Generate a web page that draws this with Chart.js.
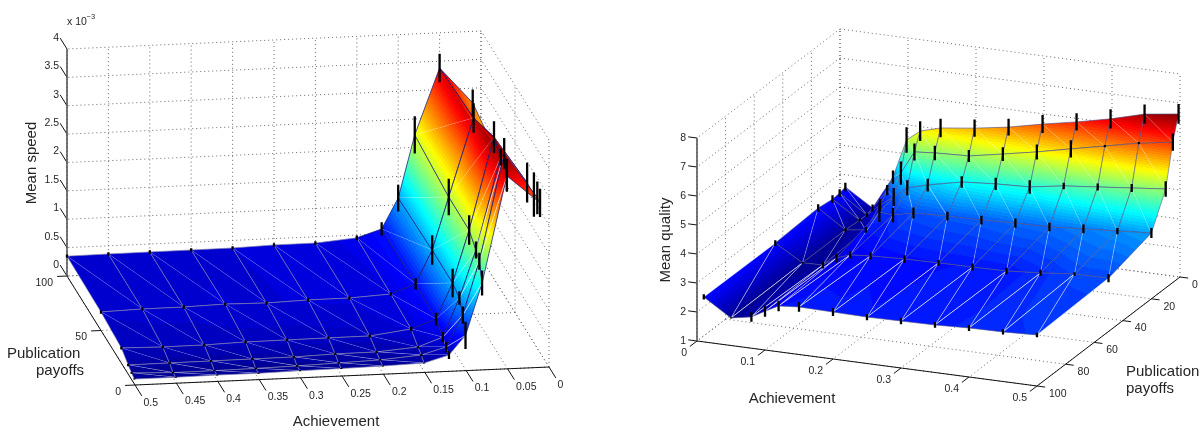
<!DOCTYPE html>
<html>
<head>
<meta charset="utf-8">
<title>Mean speed / Mean quality</title>
<script src="https://cdn.jsdelivr.net/npm/chart.js@4/dist/chart.umd.min.js"></script>
<style>
  html, body { margin: 0; padding: 0; background: #fff; }
  canvas { position: absolute; top: 0; }
  #chart-speed { left: 0; }
  #chart-quality { left: 601px; }
</style>
</head>
<body>
<canvas id="chart-speed" width="601" height="432"></canvas>
<canvas id="chart-quality" width="601" height="432"></canvas>
<script>
// ── Data: rows follow PAYOFFS, columns follow ACHIEVEMENT ─────────────
const ACHIEVEMENT = [0.5, 0.45, 0.4, 0.35, 0.3, 0.25, 0.2, 0.15, 0.12, 0.1, 0.08, 0.05, 0.01];
const PAYOFFS = [100, 50, 20, 10, 5, 1];

// Mean speed (x 10^-3)
const SPEED_100 = [0.35, 0.356, 0.36, 0.363, 0.367, 0.388, 0.39, 0.45, 0.587, 1.12, 2.22, 3.38, 2.74];
const SPEED_50  = [0.326, 0.347, 0.35, 0.37, 0.358, 0.379, 0.382, 0.42, 0.578, 1.165, 2.086, 3.46, 2.43];
const SPEED_20  = [0.268, 0.254, 0.257, 0.278, 0.282, 0.287, 0.289, 0.38, 0.537, 1.16, 2.08, 3.7, 2.87];
const SPEED_10  = [0.16, 0.164, 0.167, 0.171, 0.174, 0.196, 0.2, 0.255, 0.41, 1.087, 1.92, 3.54, 2.85];
const SPEED_5   = [0.116, 0.09, 0.093, 0.1, 0.113, 0.134, 0.155, 0.21, 0.332, 0.884, 1.82, 3.7, 2.89];
const SPEED_1   = [0.086, 0.085, 0.093, 0.092, 0.106, 0.113, 0.125, 0.146, 0.268, 0.6, 1.51, 3.38, 2.88];

const SPEED_ERR_100 = [0.03, 0.03, 0.03, 0.03, 0.03, 0.03, 0.03, 0.04, 0.12, 0.235, 0.33, 0.25, 0.235];
const SPEED_ERR_50  = [0.03, 0.03, 0.03, 0.03, 0.03, 0.03, 0.03, 0.03, 0.1, 0.26, 0.32, 0.26, 0.28];
const SPEED_ERR_20  = [0.025, 0.025, 0.025, 0.025, 0.025, 0.025, 0.025, 0.04, 0.11, 0.25, 0.26, 0.28, 0.35];
const SPEED_ERR_10  = [0.02, 0.02, 0.02, 0.02, 0.02, 0.02, 0.02, 0.02, 0.09, 0.12, 0.15, 0.15, 0.39];
const SPEED_ERR_5   = [0.015, 0.015, 0.015, 0.015, 0.015, 0.015, 0.015, 0.02, 0.09, 0.15, 0.15, 0.27, 0.29];
const SPEED_ERR_1   = [0.01, 0.01, 0.01, 0.01, 0.01, 0.01, 0.01, 0.01, 0.07, 0.24, 0.22, 0.28, 0.25];

// Mean quality
const QUALITY_100 = [2.76, 2.71, 2.69, 2.64, 2.62, 2.6, 2.62, 2.64, 2.58, 2.34, 2.08, 1.95, 2.55];
const QUALITY_50  = [2.84, 2.83, 2.71, 2.62, 2.6, 2.59, 2.57, 2.52, 2.46, 2.29, 1.99, 1.97, 2.53];
const QUALITY_20  = [3.27, 3.18, 3.1, 3.01, 2.99, 2.94, 2.92, 2.87, 2.71, 2.75, 2.07, 1.98, 2.61];
const QUALITY_10  = [4.41, 4.29, 4.17, 4.05, 3.86, 3.81, 3.72, 3.46, 3.27, 2.89, 2.55, 1.94, 2.54];
const QUALITY_5   = [5.84, 5.65, 5.39, 5.14, 4.88, 4.65, 4.43, 4.38, 4.32, 3.53, 2.88, 1.93, 2.56];
const QUALITY_1   = [6.66, 6.5, 6.18, 5.92, 5.69, 5.43, 5.24, 5.09, 4.89, 4.52, 3.18, 2.02, 2.62];

const QUALITY_ERR_100 = [0.08, 0.09, 0.1, 0.1, 0.11, 0.11, 0.14, 0.17, 0.18, 0.19, 0.17, 0.02, 0.09];
const QUALITY_ERR_50  = [0.14, 0.06, 0.11, 0.11, 0.12, 0.1, 0.13, 0.12, 0.13, 0.15, 0.12, 0.03, 0.1];
const QUALITY_ERR_20  = [0.17, 0.11, 0.15, 0.15, 0.16, 0.15, 0.15, 0.19, 0.25, 0.34, 0.1, 0.06, 0.13];
const QUALITY_ERR_10  = [0.27, 0.14, 0.12, 0.11, 0.23, 0.21, 0.2, 0.22, 0.26, 0.31, 0.2, 0.05, 0.13];
const QUALITY_ERR_5   = [0.3, 0.04, 0.04, 0.3, 0.26, 0.24, 0.21, 0.25, 0.29, 0.4, 0.18, 0.06, 0.13];
const QUALITY_ERR_1   = [0.34, 0.33, 0.33, 0.3, 0.31, 0.29, 0.3, 0.32, 0.34, 0.44, 0.23, 0.12, 0.15];

// Tick labels
const SPEED_A_TICKS = ["0", "0.05", "0.1", "0.15", "0.2", "0.25", "0.3", "0.35", "0.4", "0.45", "0.5"];
const SPEED_P_TICKS = ["0", "50", "100"];
const SPEED_Z_TICKS = ["0", "0.5", "1", "1.5", "2", "2.5", "3", "3.5", "4"];
const QUALITY_A_TICKS = ["0", "0.1", "0.2", "0.3", "0.4", "0.5"];
const QUALITY_P_TICKS = ["0", "20", "40", "60", "80", "100"];
const QUALITY_Z_TICKS = ["1", "2", "3", "4", "5", "6", "7", "8"];

// ── Colormap jet, 64 flat bands ───────────────────────────────────────
const JET = [
  [0, [0, 0, 143]], [0.125, [0, 0, 255]], [0.375, [0, 255, 255]],
  [0.625, [255, 255, 0]], [0.875, [255, 0, 0]], [1, [128, 0, 0]],
];
const BANDS = 64;

function jet(f) {
  f = Math.max(0, Math.min(1, f));
  for (let i = 1; i < JET.length; i++) {
    if (f <= JET[i][0]) {
      const [f0, c0] = JET[i - 1];
      const [f1, c1] = JET[i];
      const t = (f - f0) / (f1 - f0);
      return `rgb(${c0.map((c, k) => Math.round(c + (c1[k] - c) * t)).join(",")})`;
    }
  }
  return "rgb(128,0,0)";
}

// Facet is flat, so colour varies along one straight direction on screen
function facetFill(chart, corners, zMin, zMax) {
  const sx = chart.scales.x, sy = chart.scales.y;
  const frac = z => (z - zMin) / (zMax - zMin);
  if (!chart.chartArea || !sx || !sy) return jet(frac(corners[0].z));
  const pts = corners.map(c => ({ x: sx.getPixelForValue(c.x), y: sy.getPixelForValue(c.y), z: c.z }));
  const [p0, p1, p2] = pts;
  const lo = pts.reduce((a, b) => (b.z < a.z ? b : a));
  const hi = pts.reduce((a, b) => (b.z > a.z ? b : a));
  const det = (p1.x - p0.x) * (p2.y - p0.y) - (p2.x - p0.x) * (p1.y - p0.y);
  if (!isFinite(det) || hi.z - lo.z < 1e-6 || Math.abs(det) < 1e-6) return jet(frac((lo.z + hi.z) / 2));

  const gx = ((p1.z - p0.z) * (p2.y - p0.y) - (p2.z - p0.z) * (p1.y - p0.y)) / det;
  const gy = ((p1.x - p0.x) * (p2.z - p0.z) - (p2.x - p0.x) * (p1.z - p0.z)) / det;
  const g2 = gx * gx + gy * gy;
  const dz = hi.z - lo.z;
  const grad = chart.ctx.createLinearGradient(lo.x, lo.y, lo.x + gx * dz / g2, lo.y + gy * dz / g2);
  const toT = f => (zMin + f * (zMax - zMin) - lo.z) / dz;
  for (let k = 0; k < BANDS; k++) {
    const t0 = toT(k / BANDS), t1 = toT((k + 1) / BANDS);
    if (t1 <= 0 || t0 >= 1) continue;
    const col = jet((k + 0.5) / BANDS);
    grad.addColorStop(Math.max(0, t0), col);
    grad.addColorStop(Math.min(1, t1), col);
  }
  return grad;
}

// ── Helpers ───────────────────────────────────────────────────────────
function lineSet(segments, color, width, dash) {
  const data = [];
  segments.forEach(([a, b]) => data.push(a, b, { x: null, y: null }));
  return {
    data, showLine: true, fill: false, pointRadius: 0,
    borderColor: color, borderWidth: width, borderDash: dash || [],
  };
}

function range(labels) { return labels.map(Number); }

// ── One surface plot ──────────────────────────────────────────────────
function drawSurface(cfg) {
  const { project, rows, errs, aTicks, pTicks, zTicks } = cfg;
  const all = rows.flat();
  const zMin = Math.min(...all), zMax = Math.max(...all);
  const z0 = zTicks[0], z1 = zTicks[zTicks.length - 1];
  const aMax = aTicks[aTicks.length - 1], pMax = pTicks[pTicks.length - 1];

  // Back walls and floor
  const dotted = [];
  zTicks.forEach(z => {
    dotted.push([project(cfg.wallA, 0, z), project(cfg.wallA, pMax, z)]);
    dotted.push([project(0, cfg.wallP, z), project(aMax, cfg.wallP, z)]);
  });
  aTicks.forEach(a => {
    dotted.push([project(a, cfg.wallP, z0), project(a, cfg.wallP, z1)]);
    dotted.push([project(a, 0, z0), project(a, pMax, z0)]);
  });
  pTicks.forEach(p => {
    dotted.push([project(cfg.wallA, p, z0), project(cfg.wallA, p, z1)]);
    dotted.push([project(0, p, z0), project(aMax, p, z0)]);
  });

  // Axis lines and ticks
  const axes = [
    [project(0, cfg.axisP, z0), project(aMax, cfg.axisP, z0)],
    [project(aMax, 0, z0), project(aMax, pMax, z0)],
  ];
  aTicks.forEach(a => axes.push([project(a, cfg.axisP, z0), project(a, cfg.axisP + cfg.aTickLen, z0)]));
  pTicks.forEach(p => axes.push([project(aMax, p, z0), project(aMax + cfg.pTickLen, p, z0)]));
  zTicks.forEach(z => axes.push([project(cfg.zAxisA, cfg.zAxisP, z), project(cfg.zAxisA + cfg.zTickA, cfg.zAxisP + cfg.zTickP, z)]));

  // Facets, far ones first
  const node = (i, j) => {
    const p = project(ACHIEVEMENT[i], PAYOFFS[j], rows[j][i]);
    return { x: p.x, y: p.y, z: rows[j][i] };
  };
  const edgeColor = (a, b) => cfg.meshColor(((a.z + b.z) / 2 - zMin) / (zMax - zMin));
  const facets = [];
  for (let j = 0; j < PAYOFFS.length - 1; j++) {
    for (let i = 0; i < ACHIEVEMENT.length - 1; i++) {
      const a = node(i, j), b = node(i + 1, j), c = node(i, j + 1), d = node(i + 1, j + 1);
      facets.push({ corners: [a, b, d], row: [a, b], col: [b, d], diag: [a, d], j,
        cols: [i, i + 1, i + 1], rws: [j, j, j + 1] });
      facets.push({ corners: [a, c, d], row: [c, d], col: [a, c], diag: null, j,
        cols: [i, i, i + 1], rws: [j, j + 1, j + 1] });
    }
  }
  const nearness = f => {
    let s = 0;
    f.corners.forEach((c, k) => {
      const floor = project(ACHIEVEMENT[f.cols[k]], PAYOFFS[f.rws[k]], z0);
      s += floor.y + 0.25 * (floor.y - c.y);
    });
    return s;
  };
  facets.sort((f, g) => nearness(f) - nearness(g));

  const datasets = [];
  datasets.push(lineSet(dotted, "#666", 1, [1, 3]));
  datasets.push(lineSet(axes, "#111", 1));
  datasets.push(lineSet([[project(cfg.zAxisA, cfg.zAxisP, z0), project(cfg.zAxisA, cfg.zAxisP, z1)]], "#555", 1.6));

  facets.forEach(f => {
    datasets.push({
      data: [...f.corners, f.corners[0]], showLine: true, pointRadius: 0, borderWidth: 0,
      fill: "shape",
      backgroundColor: ctx => facetFill(ctx.chart, f.corners, zMin, zMax),
    });
    datasets.push(lineSet([f.row], edgeColor(...f.row), 0.9));
    datasets.push(lineSet([f.col], cfg.columnColor(f.j) || edgeColor(...f.col), 0.8));
    if (f.diag) datasets.push(lineSet([f.diag], cfg.diagColor(f.j), 0.7));
  });

  // Error bars
  const bars = [];
  rows.forEach((row, j) => row.forEach((z, i) => {
    const a = ACHIEVEMENT[i], p = PAYOFFS[j], e = errs[j][i];
    bars.push([project(a, p, z - e), project(a, p, z + e)]);
  }));
  datasets.push(lineSet(bars, "#000", 2.3));

  const labelPlugin = {
    id: "labels3d",
    afterDraw(chart) {
      const { ctx } = chart;
      const sx = chart.scales.x, sy = chart.scales.y;
      ctx.save();
      ctx.fillStyle = "#262626";
      ctx.textBaseline = "middle";
      cfg.labels().forEach(l => {
        ctx.save();
        ctx.font = `${l.size}px "Liberation Sans", Arial, sans-serif`;
        ctx.textAlign = l.align || "left";
        ctx.translate(sx.getPixelForValue(l.x), sy.getPixelForValue(l.y));
        if (l.rotate) ctx.rotate(l.rotate);
        ctx.fillText(l.text, 0, 0);
        ctx.restore();
      });
      ctx.restore();
    },
  };

  // Chart.js paints the last dataset first
  return new Chart(document.getElementById(cfg.canvasId), {
    type: "scatter",
    data: { datasets: datasets.reverse() },
    plugins: [labelPlugin],
    options: {
      responsive: false, animation: false, events: [],
      layout: { padding: 0 },
      elements: { line: { tension: 0, borderCapStyle: "butt" }, point: { radius: 0 } },
      plugins: { legend: { display: false }, tooltip: { enabled: false }, title: { display: false } },
      scales: {
        x: { type: "linear", display: false, min: cfg.xMin, max: cfg.xMax },
        y: { type: "linear", display: false, min: 0, max: 432, reverse: true },
      },
    },
  });
}

// ── Left: Mean speed ──────────────────────────────────────────────────
const projectSpeed = (a, p, z) => ({
  x: 135 + (0.5 - a) * 828 - p * 0.68,
  y: 385 - (0.5 - a) * 36 - p * 1.09 - z * 56.75,
});

drawSurface({
  canvasId: "chart-speed", xMin: 0, xMax: 601,
  project: projectSpeed,
  rows: [SPEED_100, SPEED_50, SPEED_20, SPEED_10, SPEED_5, SPEED_1],
  errs: [SPEED_ERR_100, SPEED_ERR_50, SPEED_ERR_20, SPEED_ERR_10, SPEED_ERR_5, SPEED_ERR_1],
  aTicks: range(SPEED_A_TICKS), pTicks: range(SPEED_P_TICKS), zTicks: range(SPEED_Z_TICKS),
  wallA: 0, wallP: 100, axisP: 0, aTickLen: -10, pTickLen: 0.012,
  zAxisA: 0.5, zAxisP: 100, zTickA: 0, zTickP: 10,
  meshColor: f => (f < 0.1 ? "rgba(125,125,175,0.75)" : "rgba(25,25,115,0.85)"),
  columnColor: () => null,
  diagColor: j => (j >= 3 ? "rgba(255,255,255,0.8)" : "rgba(255,255,255,0.4)"),
  labels: () => [
    ...SPEED_A_TICKS.map(t => { const b = projectSpeed(+t, 0, 0); return { text: t, x: b.x + 8.5, y: b.y + 18, size: 10.5 }; }),
    ...SPEED_P_TICKS.map(t => { const b = projectSpeed(0.5, +t, 0); return { text: t, x: b.x - 14, y: b.y + 7, size: 10.5, align: "right" }; }),
    ...SPEED_Z_TICKS.map(t => { const b = projectSpeed(0.5, 100, +t); return { text: t, x: 59, y: b.y - 11, size: 10.5, align: "right" }; }),
    { text: "x 10", x: 67, y: 22, size: 10.5 },
    { text: "\u22123", x: 86.5, y: 17, size: 7.5 },
    { text: "Mean speed", x: 32, y: 163, size: 15, align: "center", rotate: -Math.PI / 2 },
    { text: "Achievement", x: 336, y: 422, size: 15, align: "center" },
    { text: "Publication", x: 7, y: 354, size: 15 },
    { text: "payoffs", x: 36, y: 371, size: 15 },
  ],
});

// ── Right: Mean quality ───────────────────────────────────────────────
const projectQuality = (a, p, z) => ({
  x: 697 + a * 680 + (100 - p) * 1.43,
  y: 341 + a * 90 - (100 - p) * 1.09 - (z - 1) * 29,
});

drawSurface({
  canvasId: "chart-quality", xMin: 601, xMax: 1202,
  project: projectQuality,
  rows: [QUALITY_100, QUALITY_50, QUALITY_20, QUALITY_10, QUALITY_5, QUALITY_1],
  errs: [QUALITY_ERR_100, QUALITY_ERR_50, QUALITY_ERR_20, QUALITY_ERR_10, QUALITY_ERR_5, QUALITY_ERR_1],
  aTicks: range(QUALITY_A_TICKS), pTicks: range(QUALITY_P_TICKS), zTicks: range(QUALITY_Z_TICKS),
  wallA: 0, wallP: 0, axisP: 100, aTickLen: 5, pTickLen: 0.012,
  zAxisA: 0, zAxisP: 100, zTickA: -0.013, zTickP: 0,
  meshColor: () => "rgba(80,80,135,0.7)",
  columnColor: j => (j === 0 ? "rgba(255,255,255,0.7)" : null),
  diagColor: j => (j === 0 ? "rgba(255,255,255,0.7)" : "rgba(255,255,255,0.45)"),
  labels: () => [
    ...QUALITY_A_TICKS.map(t => { const b = projectQuality(+t, 100, 1); return { text: t, x: b.x - 10, y: b.y + 12.5, size: 10.5, align: "right" }; }),
    ...QUALITY_P_TICKS.map(t => { const b = projectQuality(0.5, +t, 1); return { text: t, x: b.x + 12, y: b.y + 8, size: 10.5 }; }),
    ...QUALITY_Z_TICKS.map(t => { const b = projectQuality(0, 100, +t); return { text: t, x: 686, y: b.y, size: 10.5, align: "right" }; }),
    { text: "Mean quality", x: 666, y: 240, size: 15, align: "center", rotate: -Math.PI / 2 },
    { text: "Achievement", x: 792, y: 399, size: 15, align: "center" },
    { text: "Publication", x: 1126, y: 372, size: 15 },
    { text: "payoffs", x: 1126, y: 389, size: 15 },
  ],
});
</script>
</body>
</html>
